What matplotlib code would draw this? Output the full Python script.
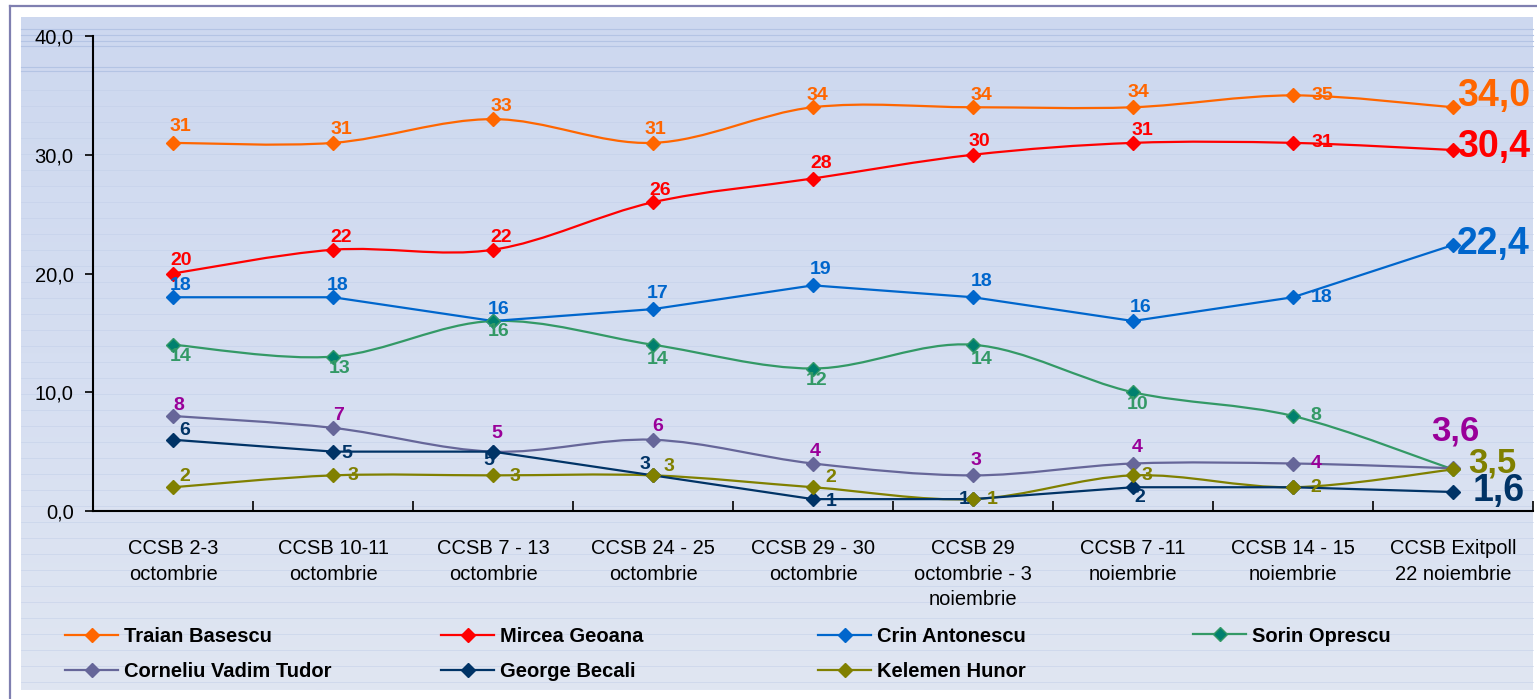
import matplotlib
matplotlib.use("Agg")
import matplotlib.pyplot as plt
import numpy as np
from matplotlib.path import Path
from matplotlib.patches import PathPatch
from matplotlib.lines import Line2D
from matplotlib.colors import LinearSegmentedColormap
from matplotlib.ticker import FuncFormatter

plt.rcParams['font.family'] = ['Liberation Sans', 'DejaVu Sans']

# sondaje CCSB + exit-poll
categories = ["CCSB 2-3\noctombrie", "CCSB 10-11\noctombrie", "CCSB 7 - 13\noctombrie",
              "CCSB 24 - 25\noctombrie", "CCSB 29 - 30\noctombrie",
              "CCSB 29\noctombrie - 3\nnoiembrie", "CCSB 7 -11\nnoiembrie",
              "CCSB 14 - 15\nnoiembrie", "CCSB Exitpoll\n22 noiembrie"]

names = ["Traian Basescu", "Mircea Geoana", "Crin Antonescu", "Sorin Oprescu",
         "Corneliu Vadim Tudor", "George Becali", "Kelemen Hunor"]

basescu = [31, 31, 33, 31, 34, 34, 34, 35, 34.0]
geoana = [20, 22, 22, 26, 28, 30, 31, 31, 30.4]
antonescu = [18, 18, 16, 17, 19, 18, 16, 18, 22.4]
oprescu = [14, 13, 16, 14, 12, 14, 10, 8, 3.5]
vadim = [8, 7, 5, 6, 4, 3, 4, 4, 3.6]
becali = [6, 5, 5, 3, 1, 1, 2, 2, 1.6]
kelemen = [2, 3, 3, 3, 2, 1, 3, 2, 3.5]

series = [basescu, geoana, antonescu, oprescu, vadim, becali, kelemen]

# styling
line_colors = ['#FF6600', '#FF0000', '#0066CC', '#339966', '#666699', '#003366', '#808000']
marker_colors = ['#FF6600', '#FF0000', '#0066CC', '#00806E', '#666699', '#003366', '#808000']
label_colors = ['#FF6600', '#FF0000', '#0066CC', '#339966', '#990099', '#003366', '#808000']
smooth = [True, True, False, True, True, False, True]
big_sizes = [27, 27, 27, 27, 25, 27, 25]

# label offsets in pixels (dx, dy); last entry is the big exit-poll label
offsets = [
    [(7, 16), (8, 13), (8, 13), (2, 13), (4, 12), (8, 12), (5, 15), (29, 0), (4, 11)],
    [(8, 13), (8, 12), (8, 12), (7, 12), (8, 15), (6, 13), (9, 12), (29, 0), (4, 3)],
    [(8, 12), (5, 12), (6, 12), (5, 16), (8, 16), (9, 16), (8, 13), (29, 0), (4, 1)],
    [(8, -12), (7, -12), (6, -11), (5, -15), (4, -12), (9, -15), (5, -12), (23, 0), None],
    [(6, 10), (6, 12), (4, 18), (5, 13), (2, 12), (3, 15), (4, 16), (23, 0), (-22, 37)],
    [(12, 9), (14, -2), (-4, -9), (-8, 11), (18, -2), (-9, 0), (7, -10), None, (20, 1)],
    [(12, 11), (20, 0), (22, -1), (16, 9), (18, 10), (19, 0), (14, 0), (23, 0), (15, 6)],
]


def smooth_path(xs, ys):
    pts = np.column_stack([xs, ys]).astype(float)
    n = len(pts)
    verts = [pts[0]]
    codes = [Path.MOVETO]
    for i in range(n - 1):
        p0 = pts[i - 1] if i > 0 else pts[i]
        p1 = pts[i]
        p2 = pts[i + 1]
        p3 = pts[i + 2] if i + 2 < n else pts[i + 1]
        verts += [p1 + (p2 - p0) / 6, p2 - (p3 - p1) / 6, p2]
        codes += [Path.CURVE4] * 3
    return Path(verts, codes)


W, H = 1537, 699
fig = plt.figure(figsize=(W / 100, H / 100), dpi=100)

# background panel
bg = fig.add_axes([0, 0, 1, 1], zorder=0)
bg.set_xlim(0, W)
bg.set_ylim(H, 0)
bg.axis('off')
cmap = LinearSegmentedColormap.from_list('bgblue', ['#cdd8ef', '#d5def1', '#e0e6f2'])
bg.imshow(np.linspace(0, 1, 256).reshape(-1, 1), cmap=cmap, aspect='auto',
          extent=(21, 1533, 690, 17), interpolation='bilinear')
for yy in [29, 35, 41, 46, 67, 71]:
    bg.plot([21, 1533], [yy, yy], color='#b4c4e4', lw=0.8)
for yy in np.arange(90, 690, 16):
    bg.plot([21, 1533], [yy, yy], color='#c2cfe9', lw=0.6, alpha=0.6)
bg.plot([10, 10], [6, H], color='#7f7fb0', lw=1.6)
bg.plot([10, W], [6, 6], color='#7f7fb0', lw=1.6)

ax = fig.add_axes([93 / W, 1 - 511 / H, 1440 / W, 475 / H], zorder=1)
ax.patch.set_alpha(0)
x = np.arange(len(categories))

handles = []
for vals, name, lc, mc, tc, sm, offs, bs in zip(series, names, line_colors, marker_colors,
                                                  label_colors, smooth, offsets, big_sizes):
    if sm:
        ax.add_patch(PathPatch(smooth_path(x, vals), fill=False, edgecolor=lc, lw=1.6,
                               capstyle='round', joinstyle='round'))
    else:
        ax.plot(x, vals, color=lc, lw=1.6)
    ax.plot(x, vals, linestyle='none', marker='D', ms=7.5, mfc=mc, mec=lc, mew=1)
    for i, v in enumerate(vals):
        off = offs[i]
        if off is None:
            continue
        if i == len(vals) - 1:
            ax.annotate(f"{v:.1f}".replace('.', ','), (x[i], v), xytext=off,
                        textcoords='offset pixels', ha='left', va='center',
                        fontsize=bs, fontweight='bold', color=tc)
        else:
            ax.annotate(f"{v:g}", (x[i], v), xytext=off, textcoords='offset pixels',
                        ha='center', va='center', fontsize=14, fontweight='bold', color=tc)
    handles.append(Line2D([], [], color=lc, lw=1.6, marker='D', ms=7.5, mfc=mc, mec=lc))

ax.set_xlim(-0.5, len(categories) - 0.5)
ax.set_ylim(0, 40)
ax.set_yticks([0, 10, 20, 30, 40])
ax.yaxis.set_major_formatter(FuncFormatter(lambda v, p: f"{v:.1f}".replace('.', ',')))
ax.set_xticks(x)
ax.set_xticklabels(categories, fontsize=14.5, linespacing=1.45)
ax.set_xticks(np.arange(len(categories) + 1) - 0.5, minor=True)
ax.tick_params(axis='x', which='major', length=0, pad=20)
ax.tick_params(axis='x', which='minor', direction='in', length=7, width=1.2)
ax.tick_params(axis='y', direction='out', length=6, width=1.2, pad=8, labelsize=14.5)
for s in ['top', 'right']:
    ax.spines[s].set_visible(False)
for s in ['left', 'bottom']:
    ax.spines[s].set_linewidth(1.5)

# legend: four columns placed by hand
columns = [[0, 4], [1, 5], [2, 6], [3]]
col_x = [65, 441, 818, 1193]
for cols, cx in zip(columns, col_x):
    cy = 654 if len(cols) == 2 else 636
    fig.legend([handles[k] for k in cols], [names[k] for k in cols], loc='center left',
               bbox_to_anchor=(cx / W, 1 - cy / H), frameon=False, borderpad=0,
               borderaxespad=0, handlelength=2.64, handletextpad=0.3, labelspacing=0.8,
               prop={'weight': 'bold', 'size': 14.5})

fig.savefig('out.png', dpi=100)
